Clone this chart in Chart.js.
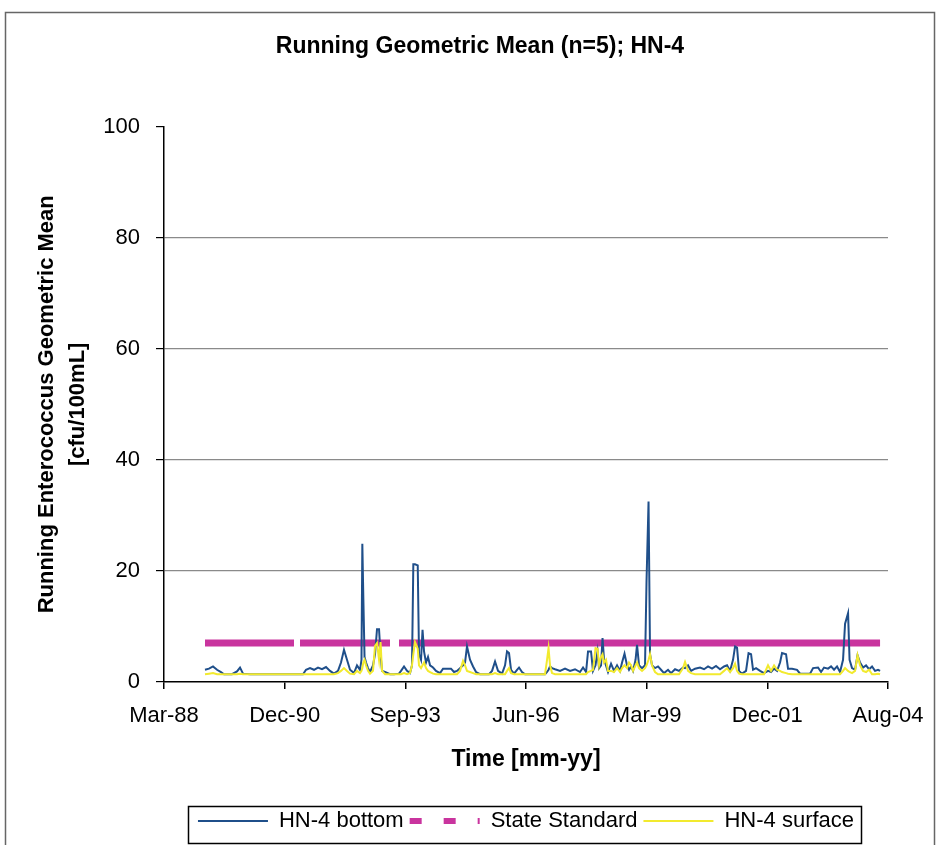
<!DOCTYPE html>
<html><head><meta charset="utf-8">
<script src="https://cdn.jsdelivr.net/npm/chart.js@4/dist/chart.umd.min.js"></script>
<style>html,body{margin:0;padding:0;background:#fff}#wrap{width:938px;height:845px}</style>
</head><body><div id="wrap"><canvas id="c" width="938" height="845"></canvas></div>
<script>
// Time of each running-mean value, in decimal years
const time = [
1989.157,1989.248,1989.339,1989.430,1989.520,1989.588,1989.770,1989.883,1989.952,1990.020,
1990.178,1990.632,1991.086,1991.177,1991.245,1991.313,1991.381,1991.449,1991.540,1991.631,
1991.721,1991.812,1991.903,1991.994,1992.084,1992.175,1992.243,1992.311,1992.379,1992.448,
1992.538,1992.606,1992.674,1992.708,1992.727,1992.749,1992.777,1992.811,1992.856,1992.901,
1992.969,1993.015,1993.060,1993.106,1993.140,1993.174,1993.242,1993.355,1993.446,1993.559,
1993.605,1993.673,1993.741,1993.809,1993.854,1993.884,1993.922,1993.984,1994.013,1994.059,
1994.093,1994.127,1994.172,1994.217,1994.263,1994.331,1994.399,1994.490,1994.558,1994.649,
1994.739,1994.807,1994.875,1994.944,1995.012,1995.057,1995.102,1995.170,1995.239,1995.307,
1995.397,1995.602,1995.670,1995.738,1995.806,1995.897,1995.965,1996.010,1996.055,1996.101,
1996.169,1996.237,1996.282,1996.350,1996.418,1996.872,1996.918,1996.952,1996.986,1997.031,
1997.099,1997.213,1997.326,1997.440,1997.553,1997.666,1997.735,1997.803,1997.848,1997.916,
1997.961,1998.018,1998.064,1998.098,1998.143,1998.177,1998.211,1998.256,1998.302,1998.370,
1998.438,1998.506,1998.574,1998.620,1998.676,1998.733,1998.778,1998.824,1998.869,1998.926,
1998.960,1999.005,1999.073,1999.141,1999.175,1999.221,1999.255,1999.300,1999.368,1999.436,
1999.504,1999.573,1999.663,1999.731,1999.822,1999.913,2000.004,2000.049,2000.117,2000.185,
2000.276,2000.389,2000.480,2000.571,2000.662,2000.752,2000.843,2000.934,2001.002,2001.070,
2001.138,2001.184,2001.229,2001.274,2001.342,2001.433,2001.490,2001.547,2001.592,2001.660,
2001.751,2001.842,2001.932,2002.000,2002.069,2002.137,2002.205,2002.250,2002.341,2002.386,
2002.477,2002.590,2002.659,2002.885,2002.954,2003.067,2003.135,2003.203,2003.294,2003.362,
2003.430,2003.498,2003.566,2003.634,2003.680,2003.748,2003.782,2003.838,2003.907,2003.963,
2004.020,2004.088,2004.156,2004.224,2004.292,2004.360,2004.428,2004.474
];
const bottom = [
2.2,2.4,2.8,2.2,1.8,1.4,1.4,1.9,2.6,1.5,
1.4,1.4,1.4,1.4,1.4,1.4,1.4,2.2,2.5,2.2,
2.6,2.3,2.7,2.0,1.5,2.0,3.5,5.8,4.0,2.2,
1.6,3.0,2.2,4.0,24.9,15.5,4.5,3.5,2.5,1.8,
3.0,5.0,9.5,9.5,5.0,2.0,1.8,1.4,1.4,1.5,
2.0,2.8,2.0,1.6,3.0,21.2,21.2,21.0,5.0,4.0,
9.4,5.5,3.5,4.5,3.0,2.6,2.0,1.6,2.4,2.4,
2.4,1.8,2.0,2.5,3.0,3.5,6.4,4.0,2.8,1.8,
1.4,1.4,2.0,3.7,2.0,1.5,3.0,5.5,5.2,2.2,
1.5,2.2,2.6,1.8,1.4,1.4,1.8,2.2,2.8,2.5,
2.3,2.0,2.4,2.0,2.3,1.8,2.6,1.8,5.5,5.5,
2.0,3.0,5.5,2.5,3.0,7.9,4.0,3.0,1.8,3.3,
2.0,3.0,2.0,3.5,5.1,3.0,2.2,2.8,2.0,4.0,
6.7,3.0,2.5,3.0,18.1,32.5,5.0,3.0,2.5,2.8,
2.2,1.6,2.2,1.6,2.3,2.0,2.6,2.5,3.0,2.0,
2.4,2.6,2.3,2.8,2.4,2.9,2.3,2.8,3.0,2.0,
4.0,6.4,6.2,2.0,1.5,2.0,5.2,5.0,2.2,2.5,
2.0,1.6,2.0,1.8,2.4,2.0,3.5,5.2,5.0,2.4,
2.4,2.2,1.5,1.5,2.5,2.6,1.8,2.6,2.4,2.8,
2.2,2.8,1.8,4.0,10.5,12.4,4.0,2.5,2.2,4.8,
3.5,2.6,3.0,2.3,2.8,2.0,2.2,2.0
];
const surface = [
1.4,1.5,1.6,1.4,1.4,1.4,1.4,1.4,1.5,1.4,
1.4,1.4,1.4,1.4,1.4,1.4,1.4,1.4,1.4,1.4,
1.4,1.4,1.4,1.4,1.4,1.6,2.0,2.5,2.0,1.5,
1.4,2.0,1.6,2.0,2.5,3.5,4.0,3.0,2.0,1.5,
2.0,6.5,7.0,4.0,7.2,2.0,1.4,1.4,1.4,1.4,
1.4,1.6,1.4,1.6,3.0,5.0,7.2,6.0,3.0,2.5,
3.0,3.5,2.5,2.0,1.8,1.5,1.4,1.4,1.4,1.4,
1.4,1.4,1.4,2.0,3.8,3.0,2.0,1.8,1.6,1.4,
1.4,1.4,1.4,1.6,1.4,1.4,1.4,2.0,2.5,1.6,
1.4,1.4,1.4,1.4,1.4,1.4,4.0,6.1,3.0,1.6,
1.4,1.4,1.4,1.4,1.4,1.4,1.4,1.4,1.8,2.0,
2.2,6.1,6.0,3.0,4.5,5.0,3.5,4.0,2.0,2.0,
1.8,2.5,1.8,2.5,3.0,2.5,3.5,3.0,2.0,3.0,
3.5,2.5,2.0,2.5,3.0,4.0,5.0,3.0,1.8,1.4,
1.4,1.4,1.4,1.4,1.4,1.4,2.5,3.6,2.0,1.6,
1.4,1.4,1.4,1.4,1.4,1.4,1.4,2.0,2.5,1.8,
2.5,3.3,2.0,1.5,1.4,1.4,1.4,1.4,1.4,1.4,
1.4,1.4,3.0,2.0,3.0,2.2,2.0,1.8,1.6,1.5,
1.4,1.4,1.4,1.4,1.4,1.4,1.4,1.4,1.4,1.4,
1.4,1.4,1.4,2.0,2.5,2.0,1.8,1.6,2.0,4.8,
3.0,2.0,1.8,2.2,1.4,1.4,1.5,1.4
];
// State standard line (with two breaks)
const standardTime = [1989.157,1991.177,1991.245,1991.313,1993.355,1993.446,1993.559,2004.474];
const standardValue = [7,7,null,7,7,null,7,7];

const seriesNames = ['HN-4 bottom','State Standard','HN-4 surface'];
const tickLabels = ['Mar-88','Dec-90','Sep-93','Jun-96','Mar-99','Dec-01','Aug-04'];
const axisStart = 1988.227;            // Mar-88 (decimal years)
const tickStep = 1000 / 365.25;        // 1000-day major unit
const yTicks = [0, 20, 40, 60, 80, 100];

const FONT = "'Liberation Sans', Arial, sans-serif";
Chart.defaults.font.family = FONT;
Chart.defaults.color = '#000';

const pts = (xs, ys) => xs.map((x, i) => ({x: x, y: ys[i]}));
const BLUE = '#1F4F8A', MAG = '#C9349E', YEL = '#F2EA2E';
const legendStyle = [
  {w: 2, dash: [], color: BLUE},
  {w: 6, dash: [12, 22], color: MAG},
  {w: 2, dash: [], color: YEL}
];

const decor = {
  id: 'decor',
  beforeDraw(chart) {
    const ctx = chart.ctx;
    ctx.save();
    ctx.fillStyle = '#fff';
    ctx.fillRect(0, 0, chart.width, chart.height);
    ctx.strokeStyle = '#666';
    ctx.lineWidth = 1.5;
    ctx.strokeRect(5.5, 12.5, 929, 845);
    ctx.restore();
  },
  afterDraw(chart) {
    const lg = chart.legend;
    if (!lg || !lg.legendHitBoxes.length) return;
    const hb = lg.legendHitBoxes;
    const l = hb[0].left - 10, r = hb[hb.length - 1].left + hb[hb.length - 1].width + 7;
    const ctx = chart.ctx;
    ctx.save();
    ctx.strokeStyle = '#000';
    ctx.lineWidth = 1.5;
    ctx.strokeRect(Math.round(l) + 0.5, Math.round(lg.top + 2) + 0.5, Math.round(r - l), 37);
    ctx.restore();
  }
};

new Chart(document.getElementById('c'), {
  type: 'line',
  data: {
    datasets: [
      {label: seriesNames[0], data: pts(time, bottom), borderColor: BLUE, backgroundColor: BLUE,
       borderWidth: 2, pointRadius: 0, order: 1},
      {label: seriesNames[1], data: pts(standardTime, standardValue), borderColor: MAG, backgroundColor: MAG,
       borderWidth: 7, pointRadius: 0, order: 2, spanGaps: false, borderCapStyle: 'butt'},
      {label: seriesNames[2], data: pts(time, surface), borderColor: YEL, backgroundColor: YEL,
       borderWidth: 2, pointRadius: 0, order: 0}
    ]
  },
  options: {
    responsive: false, animation: false, devicePixelRatio: 1,
    layout: {padding: {left: 72, right: 50, top: 0, bottom: 3}},
    plugins: {
      tooltip: {enabled: false},
      title: {display: true, text: 'Running Geometric Mean (n=5); HN-4', color: '#000',
              font: {size: 23, weight: 'bold'}, padding: {top: 33, bottom: 66}},
      legend: {
        position: 'bottom', fullSize: false,
        labels: {
          font: {size: 22}, color: '#000', usePointStyle: true, pointStyleWidth: 70, padding: 6,
          generateLabels: chart => chart.data.datasets.map((ds, i) => ({
            text: ds.label, datasetIndex: i, hidden: false, pointStyle: 'line',
            strokeStyle: legendStyle[i].color, fillStyle: legendStyle[i].color,
            lineWidth: legendStyle[i].w, lineDash: legendStyle[i].dash, lineCap: 'butt', fontColor: '#000'
          }))
        }
      }
    },
    scales: {
      x: {
        type: 'linear', min: axisStart, max: axisStart + 6 * tickStep,
        afterBuildTicks: s => { s.ticks = tickLabels.map((_, i) => ({value: axisStart + i * tickStep})); },
        afterFit: s => { s.height = 122; },
        ticks: {autoSkip: false, maxRotation: 0, padding: 14, font: {size: 22}, color: '#000',
                callback: (v, i) => tickLabels[i]},
        grid: {drawOnChartArea: false, tickLength: 7, color: '#000', tickColor: '#000', lineWidth: 1.5},
        border: {display: true, color: '#000', width: 1.5},
        title: {display: true, text: 'Time [mm-yy]', color: '#000', font: {size: 23, weight: 'bold'},
                padding: {top: 0, bottom: 31}}
      },
      y: {
        min: 0, max: 100,
        afterBuildTicks: s => { s.ticks = yTicks.map(v => ({value: v})); },
        afterFit: s => { s.width = 92; },
        ticks: {padding: 16, font: {size: 22}, color: '#000'},
        grid: {color: c => (c.tick && (c.tick.value === 0 || c.tick.value === 100)) ? 'rgba(0,0,0,0)' : '#8a8a8a',
               tickColor: '#000', tickLength: 8, lineWidth: 1.2},
        border: {display: true, color: '#000', width: 1.5},
        title: {display: true, text: ['Running Enterococcus Geometric Mean', '[cfu/100mL]'], color: '#000',
                font: {size: 22, weight: 'bold', lineHeight: 1.41}, padding: {top: -40.5, bottom: 0}}
      }
    }
  },
  plugins: [decor]
});
</script>
</body></html>
